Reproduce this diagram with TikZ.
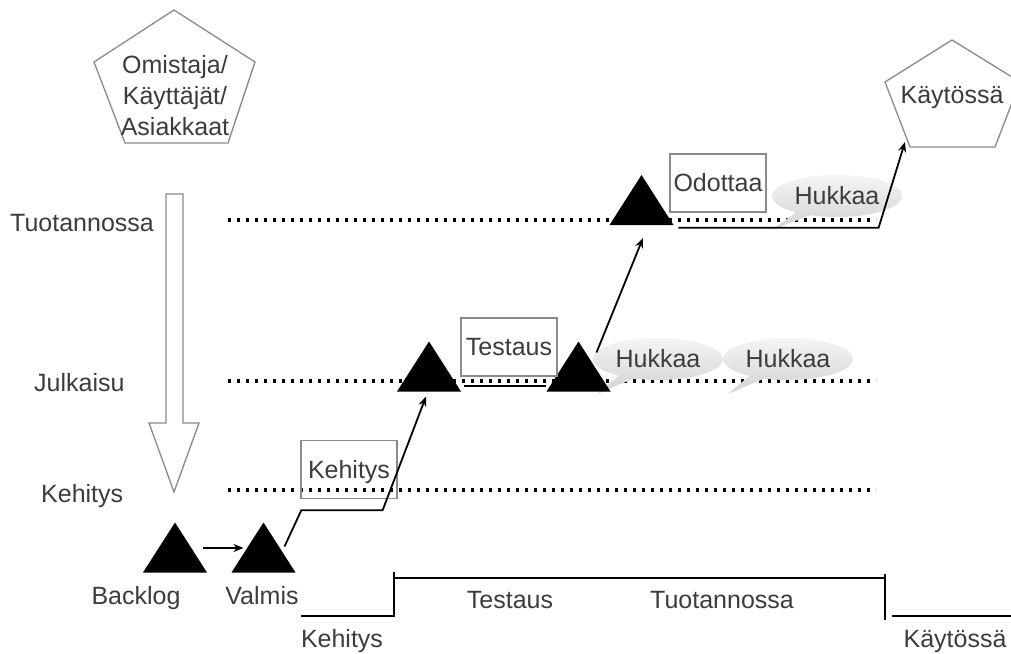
\documentclass[tikz,border=0pt]{standalone}
\usepackage{fontspec}
\setmainfont{Liberation Sans}
\usetikzlibrary{shapes.callouts,arrows.meta,calc}
\definecolor{txt}{HTML}{3C3C3C}
\definecolor{edge}{HTML}{8A8A8A}
\newcommand\blacktri[2]{\coordinate (#1) at (#2);
  \fill ($(#1)+(-32,25)$) -- ($(#1)+(0,-25)$) -- ($(#1)+(32,25)$) -- cycle;}
\begin{document}
\begin{tikzpicture}[x=1pt,y=-1pt,
  every node/.style={font=\fontsize{25}{31}\selectfont, text=txt, inner sep=0pt},
  lbl/.style={anchor=base},
  box/.style={draw=edge, line width=1.3pt, minimum width=96pt, minimum height=58pt,
    text height=17pt, text depth=0pt},
  dots/.style={line width=3.2pt, dash pattern=on 3pt off 6pt},
  outline/.style={draw=edge, line width=1.3pt, line join=miter},
  link/.style={line width=1.8pt},
  arr/.style={link, -{Stealth[length=10pt,width=8pt]}},
  waste/.style={ellipse callout, top color=gray!8, bottom color=gray!35,
    minimum width=130pt, minimum height=42pt, text height=17pt, text depth=0pt}
]
\useasboundingbox (0,0) rectangle (1011,653);

% level labels
\node[anchor=base west] (ltuo) at (10,231) {Tuotannossa};
\node[anchor=base west] (ljul) at (34,391) {Julkaisu};
\node[anchor=base west] (lkeh) at (41,502) {Kehitys};

% dotted level lines
\draw[dots] (228,220) -- (876,220);
\draw[dots] (228,381) -- (876,381);
\draw[dots] (228,490) -- (876,490);

% big hollow down arrow
\draw[outline, fill=white] (166,194) -- (183,194) -- (183,423) -- (199,423) -- (174,492)
  -- (149,423) -- (166,423) -- cycle;

% owner pentagon
\draw[outline] (174,10) -- (255,62) -- (228,143) -- (125,143) -- (94,62) -- cycle;
\node[align=center] (owner) at (175,96) {Omistaja/\\Käyttäjät/\\Asiakkaat};

% in-use pentagon
\coordinate (use) at (952,95);
\draw[outline] ($(use)+(0,-55)$) -- ($(use)+(68,-13)$) -- ($(use)+(43,52)$)
  -- ($(use)+(-42,52)$) -- ($(use)+(-67,-13)$) -- cycle;
\node[anchor=base] (uselbl) at (952,103) {Käytössä};

% waste callouts
\node[waste, callout absolute pointer={(772,230)}] (w1) at (837,196) {Hukkaa};
\node[waste, callout absolute pointer={(597,394)}] (w2) at (658,359) {Hukkaa};
\node[waste, callout absolute pointer={(728,394)}] (w3) at (788,359) {Hukkaa};

% triangles
\blacktri{backlog}{175,547.5}
\blacktri{valmis}{263.5,547.5}
\blacktri{rel1}{429,366.5}
\blacktri{rel2}{578.5,366.5}
\blacktri{prod}{641.5,200}

% activity boxes
\node[box] (kbox) at (349,469.5) {Kehitys};
\node[box] (tbox) at (509,347) {Testaus};
\node[box] (obox) at (718,183) {Odottaa};

% connectors
\draw[arr] ($(backlog)+(28,0.5)$) -- ($(valmis)+(-20,0.5)$);
\draw[arr] ($(valmis)+(21,-1)$) -- ($(kbox.south west)+(1,11)$)
  -- ($(kbox.south east)+(-15,11)$) -- ($(rel1)+(-3,30)$);
\draw[link] ($(tbox.south west)+(4,9)$) -- ($(tbox.south east)+(-12,9)$);
\draw[arr] ($(rel2)+(18,-14)$) -- ($(prod)+(1.5,38)$);
\draw[arr] ($(obox.south west)+(9,15)$) -- ($(obox.south east)+(112,15)$)
  -- ($(use)+(-47,47)$);

% triangle labels
\node[lbl] (lbacklog) at (136,604) {Backlog};
\node[lbl] (lvalmis) at (262,604) {Valmis};

% bottom timeline
\draw[link] (301,616) -- (394,616) -- (394,572);
\draw[link] (394,578) -- (885,578);
\draw[link] (885,574) -- (885,620);
\draw[link] (892,616) -- (1011,616);
\node[lbl] (ttest) at (510,608) {Testaus};
\node[lbl] (ttuo) at (722,608) {Tuotannossa};
\node[lbl] (tkeh) at (342,647) {Kehitys};
\node[lbl] (tuse) at (955,647) {Käytössä};
\end{tikzpicture}
\end{document}
